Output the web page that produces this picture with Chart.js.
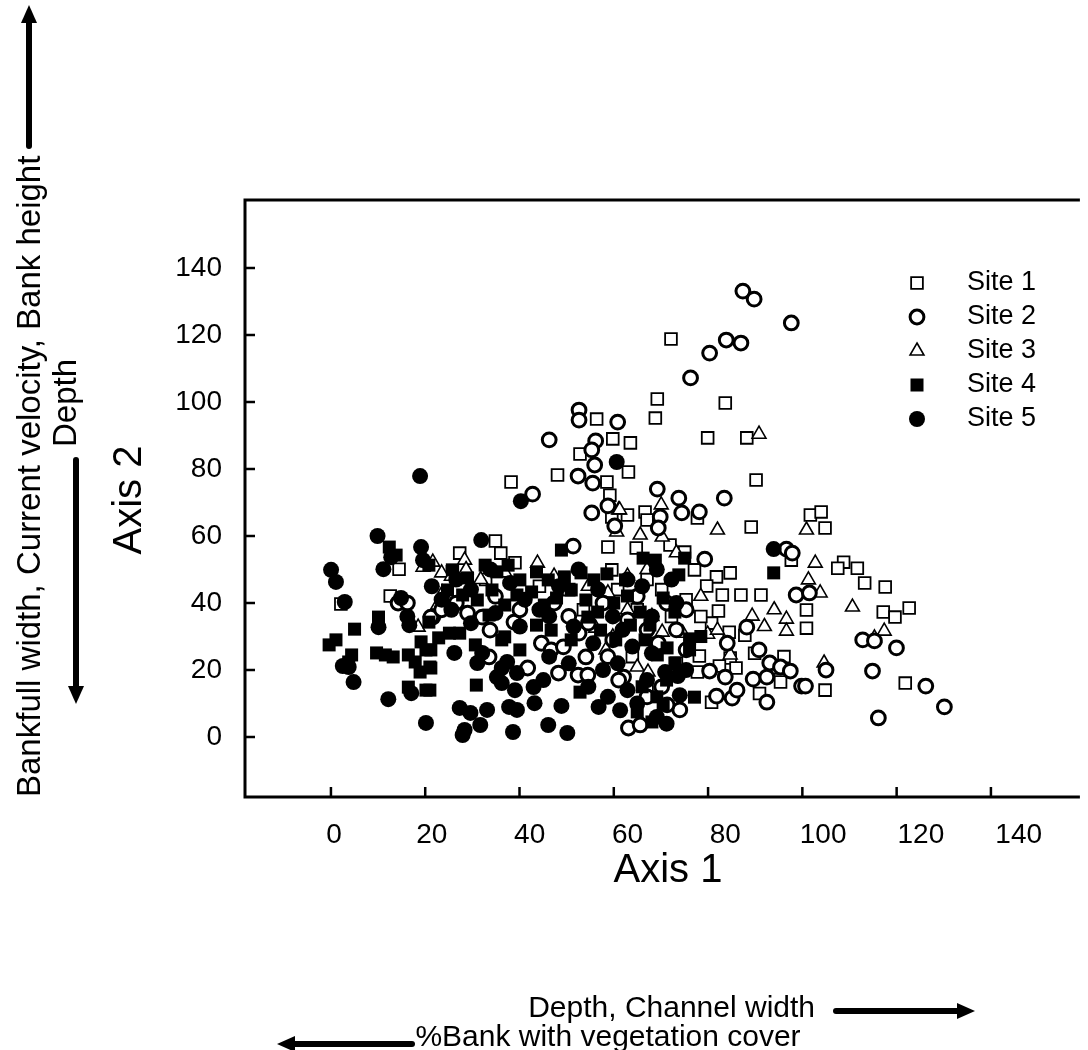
<!DOCTYPE html>
<html>
<head>
<meta charset="utf-8">
<script src="https://cdn.jsdelivr.net/npm/chart.js@4.4.0/dist/chart.umd.min.js"></script>
<style>
  html, body { margin: 0; padding: 0; background: #fff; }
  #wrap { width: 1088px; height: 1050px; }
</style>
</head>
<body>
<div id="wrap"><canvas id="chart" width="1088" height="1050"></canvas></div>
<script>
// tick labels
const xTicks = [0, 20, 40, 60, 80, 100, 120, 140];
const yTicks = [0, 20, 40, 60, 80, 100, 120, 140];
const siteNames = ["Site 1", "Site 2", "Site 3", "Site 4", "Site 5"];

// [axis1, axis2] per sample
const site1 = [
  [68.9,118.8],[66.1,100.9],[80.0,99.7],[65.7,95.2],[53.7,94.9],[76.4,89.3],[84.4,89.3],[57.0,89.0],
  [60.6,87.8],[50.3,84.5],[60.2,79.1],[45.7,78.2],[86.3,76.7],[36.2,76.1],[55.8,76.1],[56.4,72.2],
  [63.6,67.2],[60.0,66.3],[56.8,65.7],[74.3,65.4],[64.0,64.8],[97.4,66.3],[99.6,67.2],[85.3,62.7],
  [100.4,62.4],[33.0,58.5],[56.0,56.7],[68.7,57.3],[61.8,56.4],[34.1,54.9],[71.7,55.2],[93.5,52.8],
  [104.2,52.2],[103.0,50.4],[107.0,50.4],[13.3,50.1],[56.8,49.9],[73.7,49.9],[81.0,49.0],[78.2,47.8],
  [108.5,46.0],[76.2,45.1],[112.7,44.8],[79.4,42.4],[83.2,42.4],[87.3,42.4],[11.5,42.1],[1.4,39.7],
  [117.6,38.5],[96.6,37.9],[78.6,37.6],[112.3,37.3],[114.7,35.8],[77.2,34.0],[96.6,32.5],[80.8,31.3],
  [84.0,30.4],[74.7,24.2],[81.0,23.6],[78.8,21.2],[82.2,20.6],[89.5,20.6],[74.3,19.4],[91.3,16.4],
  [116.8,16.1],[100.4,14.0],[77.2,10.4],[24.2,49.3],[25.7,54.9],[31.0,47.0],[37.0,52.0],[42.0,45.0],
  [48.0,44.0],[51.0,38.0],[58.0,44.0],[62.0,38.0],[64.0,47.0],[67.0,44.0],[69.0,36.0],[72.0,41.0],
  [66.0,28.0],[61.0,24.0],[70.0,22.0],[64.0,14.0],[75.0,36.0],[86.0,25.0],[92.0,24.0],[87.0,13.0]
];
const site2 = [
  [83.6,133.1],[85.9,130.7],[93.5,123.6],[80.2,118.5],[83.2,117.6],[76.8,114.6],[72.9,107.2],[50.1,97.6],
  [50.1,94.6],[58.0,94.0],[44.0,88.7],[53.5,88.4],[52.7,85.7],[53.3,81.2],[49.9,77.9],[52.9,75.8],
  [56.0,69.0],[52.7,66.9],[57.4,63.0],[40.6,72.5],[66.1,74.0],[70.5,71.3],[79.8,71.3],[66.7,65.7],
  [71.1,66.9],[74.7,67.2],[66.3,62.4],[92.5,56.1],[93.7,54.9],[75.8,53.1],[48.9,57.0],[94.5,42.4],
  [97.2,43.0],[84.4,32.8],[80.4,28.0],[66.3,28.0],[86.9,26.0],[89.1,22.1],[91.3,20.9],[93.3,19.7],
  [76.8,19.7],[80.0,17.9],[85.7,17.3],[88.5,17.9],[95.6,15.2],[78.2,12.2],[81.4,11.6],[82.4,14.0],
  [88.5,10.4],[70.7,8.1],[68.1,9.6],[59.2,17.9],[60.2,2.7],[62.6,3.6],[108.1,29.0],[110.5,28.7],
  [115.0,26.6],[100.6,20.0],[96.4,15.2],[110.1,19.7],[121.0,15.2],[124.8,9.0],[111.3,5.7],
  [31.7,23.9],[39.6,20.6],[42.4,28.0],[44.4,26.0],[45.9,19.1],[49.9,18.5],[51.9,18.5],[46.9,26.9],
  [50.1,31.0],[51.5,23.9],[57.0,29.0],[58.2,17.0],[30.3,35.8],[20.2,35.8],[36.8,34.3],[31.9,31.9],
  [27.3,37.0],[13.1,40.0],[19.8,35.8],[15.0,40.0],[22.0,38.0],[25.0,40.0],[33.0,42.0],[38.0,38.0],
  [45.0,40.0],[55.0,40.0],[62.0,42.0],[68.0,40.0],[72.0,38.0],[60.0,35.0],[64.0,32.0],[52.0,34.0],
  [48.0,36.0],[56.0,24.0],[64.0,12.0],[67.0,15.0],[72.0,26.0],[70.0,32.0]
];
const site3 = [
  [86.9,90.4],[58.2,67.8],[57.8,61.2],[41.6,51.9],[26.7,52.8],[66.9,69.3],[58.4,67.8],[78.4,61.8],
  [96.6,61.8],[62.6,60.3],[67.1,59.7],[97.0,46.9],[98.4,51.9],[99.4,43.0],[106.0,38.8],[112.5,31.6],
  [110.5,29.6],[100.2,22.1],[85.5,36.1],[92.5,35.2],[92.5,31.6],[67.1,31.3],[71.3,31.0],[76.4,30.7],
  [78.4,31.9],[81.0,24.5],[62.0,20.9],[64.2,19.4],[53.5,32.5],[55.6,26.0],[57.0,29.9],[22.2,43.0],
  [21.2,39.4],[17.2,32.8],[18.2,50.7],[20.2,52.2],[22.0,49.0],[24.0,48.0],[27.0,50.0],[30.0,47.0],
  [35.0,49.0],[45.0,48.0],[52.0,45.0],[56.0,43.0],[60.0,48.0],[64.0,50.0],[70.0,55.0],[75.0,42.0],
  [90.0,38.0],[88.0,33.0],[60.0,38.0],[65.0,36.0]
];
const site4 = [
  [9.1,35.8],[4.2,32.2],[0.4,29.0],[-1.0,27.5],[3.6,24.5],[8.7,25.1],[10.5,24.5],[12.1,23.9],
  [15.2,24.5],[16.6,22.4],[17.8,28.4],[18.8,26.0],[17.6,19.4],[15.2,14.9],[18.8,14.0],[19.6,20.9],
  [3.0,22.4],[11.3,56.7],[19.8,26.0],[19.8,20.6],[19.6,14.0],[23.6,31.0],[34.9,29.9],[38.0,26.0],
  [51.9,35.8],[29.1,15.5],[50.3,13.4],[72.7,29.3],[68.1,26.6],[73.7,11.9],[65.0,4.5],[89.9,49.0],
  [46.5,55.8],[12.7,54.3],[19.4,51.3],[24.2,49.9],[27.3,47.5],[30.9,51.3],[33.3,49.3],[35.6,51.3],
  [38.0,46.9],[41.4,49.3],[43.8,46.9],[47.1,47.8],[50.5,49.0],[53.1,46.9],[55.8,48.7],[59.6,46.9],
  [63.2,53.4],[65.7,52.8],[70.5,48.4],[71.7,53.4],[23.2,43.9],[26.3,42.4],[29.3,40.9],[32.3,43.9],
  [34.9,39.4],[37.4,42.4],[40.4,43.3],[43.0,39.4],[45.5,41.5],[48.5,43.9],[51.5,40.9],[53.9,37.3],
  [57.2,40.0],[60.0,42.1],[62.6,37.3],[64.6,33.4],[67.3,41.5],[69.7,37.3],[19.4,34.3],[21.4,29.6],
  [25.7,31.0],[28.9,27.5],[31.7,36.4],[34.3,29.0],[41.4,33.4],[44.4,31.9],[48.5,29.0],[54.5,31.9],
  [57.6,29.0],[60.6,33.4],[63.6,29.0],[66.1,24.5],[69.7,22.1],[72.7,26.0],[62.0,7.5],[67.3,9.6],
  [66.0,12.0],[63.0,15.0],[68.0,17.0],[75.0,30.0]
];
const site5 = [
  [17.6,77.9],[38.2,70.4],[57.8,82.1],[89.9,56.1],[30.1,58.8],[8.9,60.0],[11.7,53.7],[10.1,50.1],
  [-0.6,49.9],[0.4,46.3],[17.8,56.7],[18.2,52.8],[2.2,40.3],[9.1,32.8],[15.4,33.4],[1.8,21.2],
  [4.0,16.4],[11.1,11.3],[15.8,13.1],[18.8,4.2],[3.0,20.9],[13.7,41.5],[25.7,8.7],[27.9,7.2],
  [31.3,8.1],[26.7,2.1],[26.3,0.6],[29.9,3.6],[35.8,9.0],[37.4,8.1],[36.6,1.5],[41.0,10.1],
  [43.8,3.6],[46.5,9.3],[47.7,1.2],[54.1,9.0],[24.6,25.1],[29.3,22.1],[30.3,25.1],[34.3,16.1],
  [33.3,17.9],[37.0,14.0],[40.8,14.9],[42.8,17.0],[34.3,20.6],[35.4,22.4],[37.4,19.1],[67.7,19.4],
  [70.3,18.2],[70.7,12.5],[58.0,22.0],[60.0,14.0],[62.0,10.0],[64.0,17.0],[66.0,6.0],[68.0,4.0],
  [58.5,8.0],[72.0,20.0],[65.0,25.0],[61.0,27.0],[55.0,20.0],[20.0,45.0],[25.0,47.0],[28.0,44.0],
  [32.0,50.0],[36.0,46.0],[39.0,41.0],[42.0,38.0],[46.0,45.0],[50.0,50.0],[54.0,44.0],[57.0,36.0],
  [60.0,47.0],[63.0,45.0],[66.0,50.0],[69.0,47.0],[24.0,38.0],[28.0,34.0],[33.0,37.0],[38.0,33.0],
  [44.0,36.0],[49.0,33.0],[53.0,28.0],[59.0,32.0],[65.0,36.0],[70.0,40.0],[22.0,41.0],[15.0,36.0],
  [44.0,24.0],[48.0,22.0],[52.0,15.0],[56.0,12.0]
];

const sites = [site1, site2, site3, site4, site5];

// marker look per site
const markers = [
  { pointStyle: "rect", radius: 8.3, borderWidth: 1.8, fill: "#fff" },
  { pointStyle: "circle", radius: 6.9, borderWidth: 3, fill: "#fff" },
  { pointStyle: "triangle", radius: 8, borderWidth: 1.6, fill: "#fff" },
  { pointStyle: "rect", radius: 9.2, borderWidth: 0, fill: "#000" },
  { pointStyle: "circle", radius: 8, borderWidth: 0, fill: "#000" },
];
const FONT = "'Liberation Sans', Arial, sans-serif";

function drawMarker(ctx, m, x, y) {
  ctx.save();
  ctx.fillStyle = m.fill;
  ctx.strokeStyle = "#000";
  ctx.lineWidth = m.borderWidth;
  ctx.beginPath();
  if (m.pointStyle === "circle") {
    ctx.arc(x, y, m.radius, 0, Math.PI * 2);
  } else if (m.pointStyle === "rect") {
    const s = Math.SQRT1_2 * m.radius;
    ctx.rect(x - s, y - s, 2 * s, 2 * s);
  } else {
    const r = m.radius;
    ctx.moveTo(x, y - r);
    ctx.lineTo(x + 0.866 * r, y + r / 2);
    ctx.lineTo(x - 0.866 * r, y + r / 2);
    ctx.closePath();
  }
  ctx.fill();
  if (m.borderWidth > 0) ctx.stroke();
  ctx.restore();
}

function arrow(ctx, x1, y1, x2, y2) {
  // shaft from (x1,y1) to head tip at (x2,y2)
  const ang = Math.atan2(y2 - y1, x2 - x1);
  const headLen = 18, headW = 8;
  const bx = x2 - Math.cos(ang) * headLen, by = y2 - Math.sin(ang) * headLen;
  ctx.save();
  ctx.strokeStyle = "#000";
  ctx.fillStyle = "#000";
  ctx.lineWidth = 6;
  ctx.lineCap = "round";
  ctx.beginPath();
  ctx.moveTo(x1, y1);
  ctx.lineTo(bx, by);
  ctx.stroke();
  ctx.beginPath();
  ctx.moveTo(x2, y2);
  ctx.lineTo(bx - Math.sin(ang) * headW, by + Math.cos(ang) * headW);
  ctx.lineTo(bx + Math.sin(ang) * headW, by - Math.cos(ang) * headW);
  ctx.closePath();
  ctx.fill();
  ctx.restore();
}

const frame = {
  id: "frame",
  afterDraw(chart) {
    const ctx = chart.ctx;
    const a = chart.chartArea;
    const ys = chart.scales.y;
    const xt = chart.scales.xt;

    ctx.save();
    ctx.strokeStyle = "#000";
    ctx.lineWidth = 3;
    ctx.beginPath();
    ctx.moveTo(a.right + 2, a.top);
    ctx.lineTo(a.left, a.top);
    ctx.lineTo(a.left, a.bottom);
    ctx.lineTo(a.right + 2, a.bottom);
    ctx.stroke();

    // inward ticks
    ctx.lineWidth = 2.5;
    ctx.beginPath();
    yTicks.forEach((v) => {
      const py = ys.getPixelForValue(v);
      ctx.moveTo(a.left, py);
      ctx.lineTo(a.left + 10, py);
    });
    xTicks.forEach((v) => {
      const px = xt.getPixelForValue(v);
      ctx.moveTo(px, a.bottom);
      ctx.lineTo(px, a.bottom - 10);
    });
    ctx.stroke();

    // legend
    ctx.fillStyle = "#000";
    ctx.font = "27px " + FONT;
    ctx.textBaseline = "middle";
    ctx.textAlign = "left";
    siteNames.forEach((name, i) => {
      const ly = 283 + i * 34;
      drawMarker(ctx, markers[i], 917, ly);
      ctx.fillText(name, 967, ly);
    });

    // axis titles
    ctx.font = "40px " + FONT;
    ctx.textAlign = "center";
    ctx.fillText("Axis 1", 668, 871);
    ctx.save();
    ctx.translate(130, 500);
    ctx.rotate(-Math.PI / 2);
    ctx.fillText("Axis 2", 0, 0);
    ctx.restore();

    // direction notes
    ctx.font = "33px " + FONT;
    ctx.save();
    ctx.translate(31, 797);
    ctx.rotate(-Math.PI / 2);
    ctx.textAlign = "left";
    ctx.fillText("Bankfull width, Current velocity, Bank height", 0, 0);
    ctx.restore();
    ctx.save();
    ctx.translate(67, 403);
    ctx.rotate(-Math.PI / 2);
    ctx.fillText("Depth", 0, 0);
    ctx.restore();
    arrow(ctx, 29, 146, 29, 5);
    arrow(ctx, 76, 460, 76, 704);

    ctx.font = "30px " + FONT;
    ctx.textAlign = "right";
    ctx.fillText("Depth, Channel width", 815, 1009);
    ctx.textAlign = "center";
    ctx.fillText("%Bank with vegetation cover", 608, 1038);
    arrow(ctx, 836, 1011, 975, 1011);
    arrow(ctx, 412, 1044, 277, 1044);
    ctx.restore();
  },
};

const datasets = sites.map((pts, i) => ({
  label: siteNames[i],
  data: pts.map(([x, y]) => ({ x, y })),
  pointStyle: markers[i].pointStyle,
  pointRadius: markers[i].radius,
  pointBorderWidth: markers[i].borderWidth,
  pointBackgroundColor: markers[i].fill,
  pointBorderColor: "#000",
  showLine: false,
  order: [4, 2, 3, 1, 0][i],
}));

new Chart(document.getElementById("chart"), {
  type: "scatter",
  data: { datasets },
  options: {
    responsive: false,
    animation: false,
    events: [],
    layout: { padding: { top: 200, left: 0, right: 0, bottom: 0 } },
    plugins: { legend: { display: false }, tooltip: { enabled: false } },
    scales: {
      x: {
        type: "linear",
        position: "bottom",
        min: -18.2,
        max: 152.1,
        afterBuildTicks: (s) => { s.ticks = xTicks.map((v) => ({ value: v })); },
        afterFit: (s) => { s.height = 253; },
        grid: { display: false, drawTicks: false },
        border: { display: false },
        ticks: { color: "#000", font: { size: 28, family: FONT }, padding: 21, maxRotation: 0, autoSkip: false },
      },
      xt: {
        type: "linear",
        position: "bottom",
        display: false,
        min: -18.23,
        max: 158.45,
      },
      y: {
        type: "linear",
        min: -17.9,
        max: 160.3,
        afterBuildTicks: (s) => { s.ticks = yTicks.map((v) => ({ value: v })); },
        afterFit: (s) => { s.width = 245; },
        grid: { display: false, drawTicks: false },
        border: { display: false },
        ticks: { color: "#000", font: { size: 28, family: FONT }, padding: 23, autoSkip: false },
      },
    },
  },
  plugins: [frame],
});
</script>
</body>
</html>
